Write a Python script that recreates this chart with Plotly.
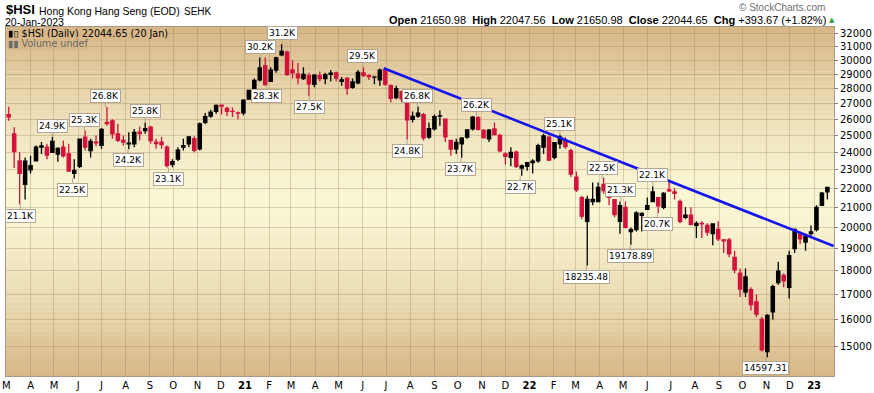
import numpy as np
import pandas as pd
import plotly.graph_objects as go

# ---------------- data (weekly OHLC, week ending Friday) ----------------
week_end = pd.date_range("2020-03-06", "2023-01-20", freq="W-FRI")

open_2020 = [26300, 25100, 23500, 22200, 23000, 23500, 24300, 24300, 24000, 23900, 24300, 23900, 22800,
             23200, 24900, 24100, 24600, 24400, 25800, 25900, 25100, 24700, 24500, 24500, 25200, 25300,
             25500, 24600, 24600, 24300, 23300, 23600, 24300, 24500, 24800, 24200, 25800, 26200, 26500,
             26900, 26700, 26500, 26400, 26400]
high_2020 = [26800, 25500, 24000, 23700, 23800, 24400, 24600, 24500, 24900, 24300, 24700, 24500, 23600,
             24800, 25300, 24800, 25000, 25450, 26782, 26000, 25700, 25000, 25200, 25400, 25550, 25800,
             25600, 24800, 24900, 24400, 23600, 24300, 24800, 24950, 24950, 25800, 26400, 26600, 26950,
             26950, 26800, 26750, 26500, 27300]
low_2020 = [25900, 23100, 21139, 21400, 22800, 23500, 23900, 23600, 23950, 23450, 23700, 22900, 22520,
            23100, 24100, 23700, 24350, 24200, 25600, 24800, 24600, 24400, 24177, 24300, 24700, 25100,
            24500, 24200, 24200, 23124, 23150, 23500, 24100, 24300, 24000, 24100, 25700, 26100, 26350,
            26300, 26200, 26150, 26000, 26250]
close_2020 = [26146, 24033, 22805, 23484, 23236, 24300, 24380, 23831, 24643, 24230, 23797, 22930, 22961,
              24770, 24301, 24644, 24549, 25373, 25727, 25089, 24705, 24595, 24531, 25183, 25113, 25422,
              24695, 24503, 24455, 23235, 23459, 24119, 24386, 24918, 24107, 25712, 26157, 26451, 26894,
              26835, 26505, 26498, 26386, 27231]

open_2021 = [27300, 28000, 28600, 29600, 28500, 29300, 30400, 30600, 29300, 29000, 28700, 28900, 28300,
             28900, 28700, 29000, 29100, 28500, 28700, 28100, 28400, 29100, 28900, 28800, 28600, 29300,
             28200, 27400, 27800, 27100, 26000, 26200, 26300, 24900, 25400, 26200, 26000, 24700, 24200,
             24500, 24900, 25400, 26100, 25300, 24800, 25400, 25000, 23900, 23700, 24000, 23100, 23200]
high_2021 = [27900, 28700, 30200, 30200, 29500, 30250, 31183, 30700, 30000, 29800, 29500, 29100, 29000,
             29200, 29100, 29300, 29200, 28800, 28800, 28700, 29300, 29500, 29000, 28900, 29400, 29400,
             28300, 28200, 27800, 27200, 26500, 26800, 26400, 25800, 26300, 26550, 26000, 24700, 24800,
             24900, 25400, 26200, 26200, 25400, 25400, 25800, 25100, 24000, 24300, 24100, 23300, 23400]
low_2021 = [27300, 27950, 28500, 28200, 28450, 29100, 30300, 28900, 28700, 28300, 28600, 27500, 28100,
            28500, 28300, 28500, 28500, 28200, 27600, 28000, 28300, 28800, 28600, 28300, 28200, 28200,
            27100, 27300, 27100, 24748, 25800, 26100, 24700, 24800, 25300, 25600, 24600, 23800, 23900,
            23681, 24800, 25300, 25300, 24800, 24600, 25000, 24000, 23300, 23200, 23100, 22665, 22950]
close_2021 = [27878, 28573, 29447, 28283, 29289, 30173, 30644, 28980, 29098, 28739, 28990, 28336, 28939,
              28699, 28970, 29079, 28725, 28610, 28027, 28458, 29124, 28918, 28842, 28801, 29288, 28310,
              27344, 28004, 27321, 25961, 26179, 26391, 24849, 25407, 26163, 26205, 24920, 24192, 24576,
              24837, 25330, 26126, 25377, 24870, 25327, 25049, 24080, 23766, 23996, 23193, 23223, 23397]

open_2022 = [23400, 23500, 24300, 24900, 23700, 24500, 24700, 24100, 22600, 21500, 20300, 21300, 21300,
             22200, 21700, 21400, 20300, 21000, 19800, 19900, 20600, 20900, 21300, 21500, 21000, 21900,
             21800, 21300, 20500, 20600, 20100, 20200, 20100, 19700, 19900, 19400, 19400, 18600, 17900,
             17100, 17200, 16700, 16000, 14800, 16300, 17500, 17800, 17300, 19000, 19700, 19300, 19700,
             19900, 21100, 21800]
high_2022 = [23600, 24500, 25100, 25000, 24600, 25050, 24900, 24200, 22900, 21600, 21600, 22300, 22300,
             22560, 21800, 21400, 21300, 21300, 20000, 20800, 20750, 21500, 22100, 21500, 21800, 22450,
             22000, 21400, 21000, 21000, 20300, 20300, 20200, 20200, 20300, 19450, 19500, 18900, 18100,
             18100, 17300, 17000, 16100, 16200, 17400, 18400, 17900, 18900, 19950, 19800, 19700, 20100,
             21100, 21800, 22048]
low_2022 = [22800, 23400, 23900, 23500, 23600, 24200, 24200, 22600, 21800, 20400, 18235, 21100, 21300,
            21700, 21100, 20500, 19700, 19950, 19179, 19800, 19800, 20900, 21300, 20700, 20900, 21800,
            21400, 20200, 20400, 20100, 19500, 19500, 19600, 19150, 19350, 18800, 18600, 17900, 16900,
            16900, 16350, 16100, 14800, 14597, 16000, 17400, 17300, 16832, 18800, 19200, 18900, 19600,
            19800, 21100, 21400]
close_2022 = [23493, 24383, 24966, 23550, 24573, 24906, 24328, 22767, 21906, 20554, 21412, 21404, 22039,
              21872, 21518, 20638, 21089, 20001, 19898, 20717, 20697, 21082, 21806, 21075, 21719, 21860,
              21725, 20297, 20609, 20156, 20202, 20175, 19773, 20170, 19452, 19362, 18762, 18047, 17223,
              17740, 16588, 16211, 14863, 16161, 17325, 17993, 17574, 18675, 19901, 19450, 19593, 19781,
              20991, 21738, 22045]

open_ = open_2020 + open_2021 + open_2022
high = high_2020 + high_2021 + high_2022
low = low_2020 + low_2021 + low_2022
close = close_2020 + close_2021 + close_2022

# trend line drawn on the chart
trend_dates = ["2021-06-28", "2023-01-26"]
trend_values = [29420, 19120]

# price labels
label_dates = ["2020-03-19", "2020-04-29", "2020-05-25", "2020-06-09", "2020-07-06", "2020-08-04",
               "2020-08-26", "2020-09-25", "2021-01-21", "2021-01-29", "2021-02-18", "2021-03-25",
               "2021-06-01", "2021-07-28", "2021-08-10", "2021-10-05", "2021-10-25", "2021-12-20",
               "2022-02-09", "2022-03-15", "2022-04-04", "2022-04-28", "2022-05-10", "2022-06-08",
               "2022-06-14", "2022-10-31"]
label_values = [21139, 24900, 22520, 25300, 26782, 24177, 25800, 23124, 30200, 28283, 31183, 27500,
                29500, 24748, 26800, 23681, 26200, 22665, 25050, 18235.48, 22500, 21300, 19178.89,
                22100, 20700, 14597.31]
label_texts = ["21.1K", "24.9K", "22.5K", "25.3K", "26.8K", "24.2K", "25.8K", "23.1K", "30.2K", "28.3K",
               "31.2K", "27.5K", "29.5K", "24.8K", "26.8K", "23.7K", "26.2K", "22.7K", "25.1K",
               "18235.48", "22.5K", "21.3K", "19178.89", "22.1K", "20.7K", "14597.31"]
label_above = [False, True, False, True, True, False, True, False, True, False, True, False,
               True, False, True, False, True, False, True, False, True, True, False, True, False, False]

y_ticks = list(range(15000, 32001, 1000))

# ---------------- figure ----------------
W, H = 874, 393
L, R, T, B = 2, 40, 27, 15
PW, PH = W - L - R, H - T - B


def px(x):
    return (x - L) / PW


def py(y):
    return (H - B - y) / PH


mid_dates = week_end - pd.Timedelta(days=2)

RED = "#D3123C"
fig = go.Figure()
fig.add_trace(go.Candlestick(
    x=mid_dates, open=open_, high=high, low=low, close=close,
    increasing=dict(line=dict(color="#000000", width=1.3), fillcolor="#000000"),
    decreasing=dict(line=dict(color=RED, width=1.3), fillcolor=RED),
    whiskerwidth=0, showlegend=False, hoverinfo="skip"))

fig.add_trace(go.Scatter(x=trend_dates, y=trend_values, mode="lines",
                         line=dict(color="#1414F0", width=2.6), showlegend=False, hoverinfo="skip"))

# background gradient (tan at the edges, pale cream in the middle)
edge = np.array([215, 183, 136])
mid = np.array([250, 247, 213])
n = 70
shapes = []
for i in range(n):
    t = (i + 0.5) / n
    d = abs(t - 0.5) / 0.5
    c = mid + (edge - mid) * d ** 1.3
    shapes.append(dict(type="rect", xref="paper", yref="paper", x0=0, x1=1, y0=i / n, y1=(i + 1) / n,
                       fillcolor="rgb(%d,%d,%d)" % tuple(c.round().astype(int)), line=dict(width=0),
                       layer="below"))

# month ticks
months = pd.date_range("2020-03-01", "2023-01-01", freq="MS")
letters = "JFMAMJJASOND"
tick_text = ["<b>%02d</b>" % (m.year % 100) if m.month == 1 else letters[m.month - 1] for m in months]

annotations = []
for d, v, t, up in zip(label_dates, label_values, label_texts, label_above):
    annotations.append(dict(x=d, y=np.log10(v), xref="x", yref="y", text=t, showarrow=True,
                            arrowhead=0, arrowwidth=1, arrowcolor="#B5A692", ax=0, ay=-11 if up else 11,
                            standoff=0, bgcolor="#FFFFFF", bordercolor="#B5A692", borderwidth=1, borderpad=1,
                            font=dict(family="DejaVu Sans", size=9, color="#000000")))

hdr = dict(xref="paper", yref="paper", showarrow=False, yanchor="middle", borderpad=0)
annotations += [
    dict(x=px(1), y=py(9), xanchor="left", text="<b>$HSI</b>",
         font=dict(family="Liberation Sans", size=13, color="#000"), **hdr),
    dict(x=px(34), y=py(11), xanchor="left", text="Hong Kong Hang Seng (EOD)",
         font=dict(family="Liberation Sans", size=10.5, color="#000"), **hdr),
    dict(x=px(180), y=py(11), xanchor="left", text="SEHK",
         font=dict(family="Liberation Sans", size=10, color="#000"), **hdr),
    dict(x=px(0), y=py(21.5), xanchor="left", text="20-Jan-2023",
         font=dict(family="Liberation Sans", size=10.5, color="#000"), **hdr),
    dict(x=px(826), y=py(7), xanchor="right", text="© StockCharts.com",
         font=dict(family="Liberation Sans", size=10, color="#707070"), **hdr),
    dict(x=px(827), y=py(20), xanchor="right",
         text="<b>Open</b> 21650.98  <b>High</b> 22047.56  <b>Low</b> 21650.98  <b>Close</b> 22044.65  "
              "<b>Chg</b> +393.67 (+1.82%)",
         font=dict(family="Liberation Sans", size=11, color="#000"), **hdr),
    dict(x=px(828), y=py(20), xanchor="left", text="▲",
         font=dict(family="DejaVu Sans", size=7, color="#2A9D3C"), **hdr),
]
hdr_in = dict(hdr)
hdr_in["bgcolor"] = "#D8B888"
annotations += [
    dict(x=px(3), y=py(34), xanchor="left", text="▮▯ $HSI (Daily) 22044.65 (20 Jan)",
         font=dict(family="DejaVu Sans", size=9.6, color="#000"), **hdr_in),
    dict(x=px(3), y=py(43.5), xanchor="left", text="▮▮ Volume undef",
         font=dict(family="DejaVu Sans", size=9.6, color="#6A6A6A"), **hdr_in),
]

grid = "rgba(150,120,80,0.30)"
fig.update_layout(
    width=W, height=H, margin=dict(l=L, r=R, t=T, b=B),
    paper_bgcolor="#FFFFFF", plot_bgcolor="rgb(250,247,213)", boxgap=0.15,
    shapes=shapes, annotations=annotations, showlegend=False,
    xaxis=dict(type="date", range=["2020-02-29 12:00", "2023-01-26 12:00"], rangeslider=dict(visible=False),
               tickmode="array", tickvals=months, ticktext=tick_text, showgrid=True, gridcolor=grid,
               gridwidth=1, ticks="", showline=True, linecolor="#A8988A", mirror=True,
               ticklabeloverflow="allow",
               tickfont=dict(family="DejaVu Sans", size=10, color="#000"), fixedrange=True),
    yaxis=dict(type="log", range=[np.log10(13950), np.log10(32519)], side="right", tickmode="array",
               tickvals=y_ticks, ticktext=[str(v) for v in y_ticks], showgrid=True, gridcolor=grid,
               gridwidth=1, ticks="outside", ticklen=3, tickcolor="#8A7A6A", showline=True,
               linecolor="#A8988A", mirror=True, tickfont=dict(family="DejaVu Sans", size=10, color="#000"),
               fixedrange=True),
)

fig.write_html("out.html", config={"displayModeBar": False},
               post_script="document.body.style.margin='0px';document.body.style.overflow='hidden';")
